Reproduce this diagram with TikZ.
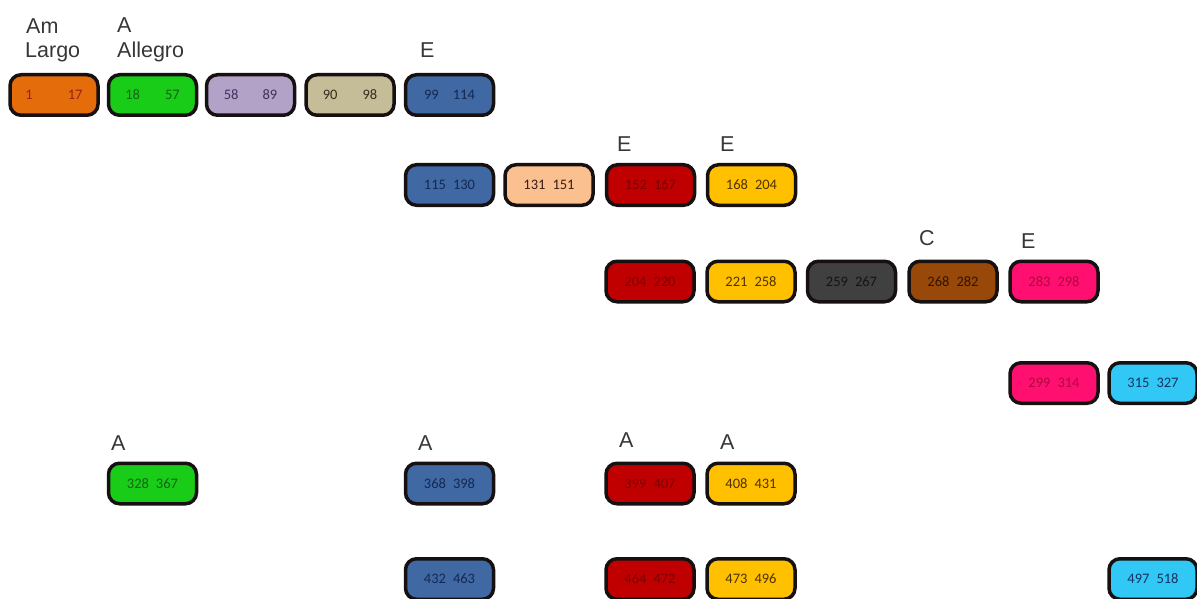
\documentclass[tikz,border=0pt]{standalone}
\usepackage{fontspec}
\setmainfont{Liberation Sans}
\newfontfamily\numfont{Carlito}
% two bar numbers set apart by a gap
\newcommand\nums[3][7pt]{#2\hspace{#1}#3}
% fills and number colours of the sections
\definecolor{cOrange}{RGB}{228,108,10}   \definecolor{tOrange}{RGB}{150,35,20}
\definecolor{cGreen}{RGB}{24,204,24}     \definecolor{tGreen}{RGB}{20,100,20}
\definecolor{cLav}{RGB}{179,162,199}     \definecolor{tLav}{RGB}{60,50,95}
\definecolor{cTan}{RGB}{196,189,151}     \definecolor{tTan}{RGB}{50,45,30}
\definecolor{cBlue}{RGB}{64,104,162}     \definecolor{tBlue}{RGB}{20,40,85}
\definecolor{cPeach}{RGB}{250,192,144}   \definecolor{tPeach}{RGB}{60,30,20}
\definecolor{cRed}{RGB}{192,0,0}         \definecolor{tRed}{RGB}{125,0,0}
\definecolor{cYellow}{RGB}{255,192,0}    \definecolor{tYellow}{RGB}{80,50,0}
\definecolor{cGrey}{RGB}{64,64,64}       \definecolor{tGrey}{RGB}{20,20,20}
\definecolor{cBrown}{RGB}{152,72,8}      \definecolor{tBrown}{RGB}{50,20,0}
\definecolor{cPink}{RGB}{255,16,112}     \definecolor{tPink}{RGB}{175,10,60}
\definecolor{cCyan}{RGB}{50,200,245}     \definecolor{tCyan}{RGB}{20,50,100}
\definecolor{rim}{RGB}{22,16,16}
\definecolor{keyink}{RGB}{55,55,55}
\begin{document}
\begin{tikzpicture}[x=1pt,y=-1pt,
  seg/.style={draw=rim, line width=3.5pt, rounded corners=11pt,
    minimum width=88pt, minimum height=40.5pt, inner sep=0pt,
    font=\numfont\fontsize{14.5}{14.5}\selectfont},
  orange/.style={seg, fill=cOrange, text=tOrange},
  green/.style={seg, fill=cGreen, text=tGreen},
  lav/.style={seg, fill=cLav, text=tLav},
  tan/.style={seg, fill=cTan, text=tTan},
  blue/.style={seg, fill=cBlue, text=tBlue},
  peach/.style={seg, fill=cPeach, text=tPeach},
  red/.style={seg, fill=cRed, text=tRed},
  yellow/.style={seg, fill=cYellow, text=tYellow},
  grey/.style={seg, fill=cGrey, text=tGrey},
  brown/.style={seg, fill=cBrown, text=tBrown},
  pink/.style={seg, fill=cPink, text=tPink},
  cyan/.style={seg, fill=cCyan, text=tCyan},
  key/.style={anchor=base west, inner sep=0pt, text=keyink,
    font=\fontsize{21.5}{24}\selectfont}]
\useasboundingbox (0,0) rectangle (1197,599);

% row 1
\node[orange] (s1)   at (54,95)    {\nums[35pt]{1}{17}};
\node[green]  (s18)  at (152.5,95) {\nums[25pt]{18}{57}};
\node[lav]    (s58)  at (250.5,95) {\nums[24pt]{58}{89}};
\node[tan]    (s90)  at (350,95)   {\nums[25pt]{90}{98}};
\node[blue]   (s99)  at (449.5,95) {\nums[14pt]{99}{114}};

% row 2
\node[blue]   (s115) at (449.5,185) {\nums{115}{130}};
\node[peach]  (s131) at (549,185)   {\nums{131}{151}};
\node[red]    (s152) at (650.5,185) {\nums{152}{167}};
\node[yellow] (s168) at (751.5,185) {\nums{168}{204}};

% row 3
\node[red]    (s204) at (650,281.5)  {\nums{204}{220}};
\node[yellow] (s221) at (751,281.5)  {\nums{221}{258}};
\node[grey]   (s259) at (851.5,281.5){\nums{259}{267}};
\node[brown]  (s268) at (953,281.5)  {\nums{268}{282}};
\node[pink]   (s283) at (1054,281.5) {\nums{283}{298}};

% row 4
\node[pink]   (s299) at (1054,383) {\nums{299}{314}};
\node[cyan]   (s315) at (1153,383) {\nums{315}{327}};

% row 5
\node[green]  (s328) at (152.5,483.5) {\nums{328}{367}};
\node[blue]   (s368) at (449.5,483.5) {\nums{368}{398}};
\node[red]    (s399) at (650,483.5)   {\nums{399}{407}};
\node[yellow] (s408) at (751,483.5)   {\nums{408}{431}};

% row 6
\node[blue]   (s432) at (449.5,579) {\nums{432}{463}};
\node[red]    (s464) at (650,579)   {\nums{464}{472}};
\node[yellow] (s473) at (751,579)   {\nums{473}{496}};
\node[cyan]   (s497) at (1153,579)  {\nums{497}{518}};

% keys and tempo marks
\node[key] (kAm)     at (26,34)   {Am};
\node[key] (kLargo)  at (25,58)   {Largo};
\node[key] (kA1)     at (117,33)  {A};
\node[key] (kAll)    at (117,58)  {Allegro};
\node[key] (kE1)     at (420,58)  {E};
\node[key] (kE2)     at (617,152) {E};
\node[key] (kE3)     at (720,152) {E};
\node[key] (kC)      at (919,245) {C};
\node[key] (kE4)     at (1021,248){E};
\node[key] (kA2)     at (111,450) {A};
\node[key] (kA3)     at (418,450) {A};
\node[key] (kA4)     at (619,447) {A};
\node[key] (kA5)     at (720,449) {A};
\end{tikzpicture}
\end{document}
